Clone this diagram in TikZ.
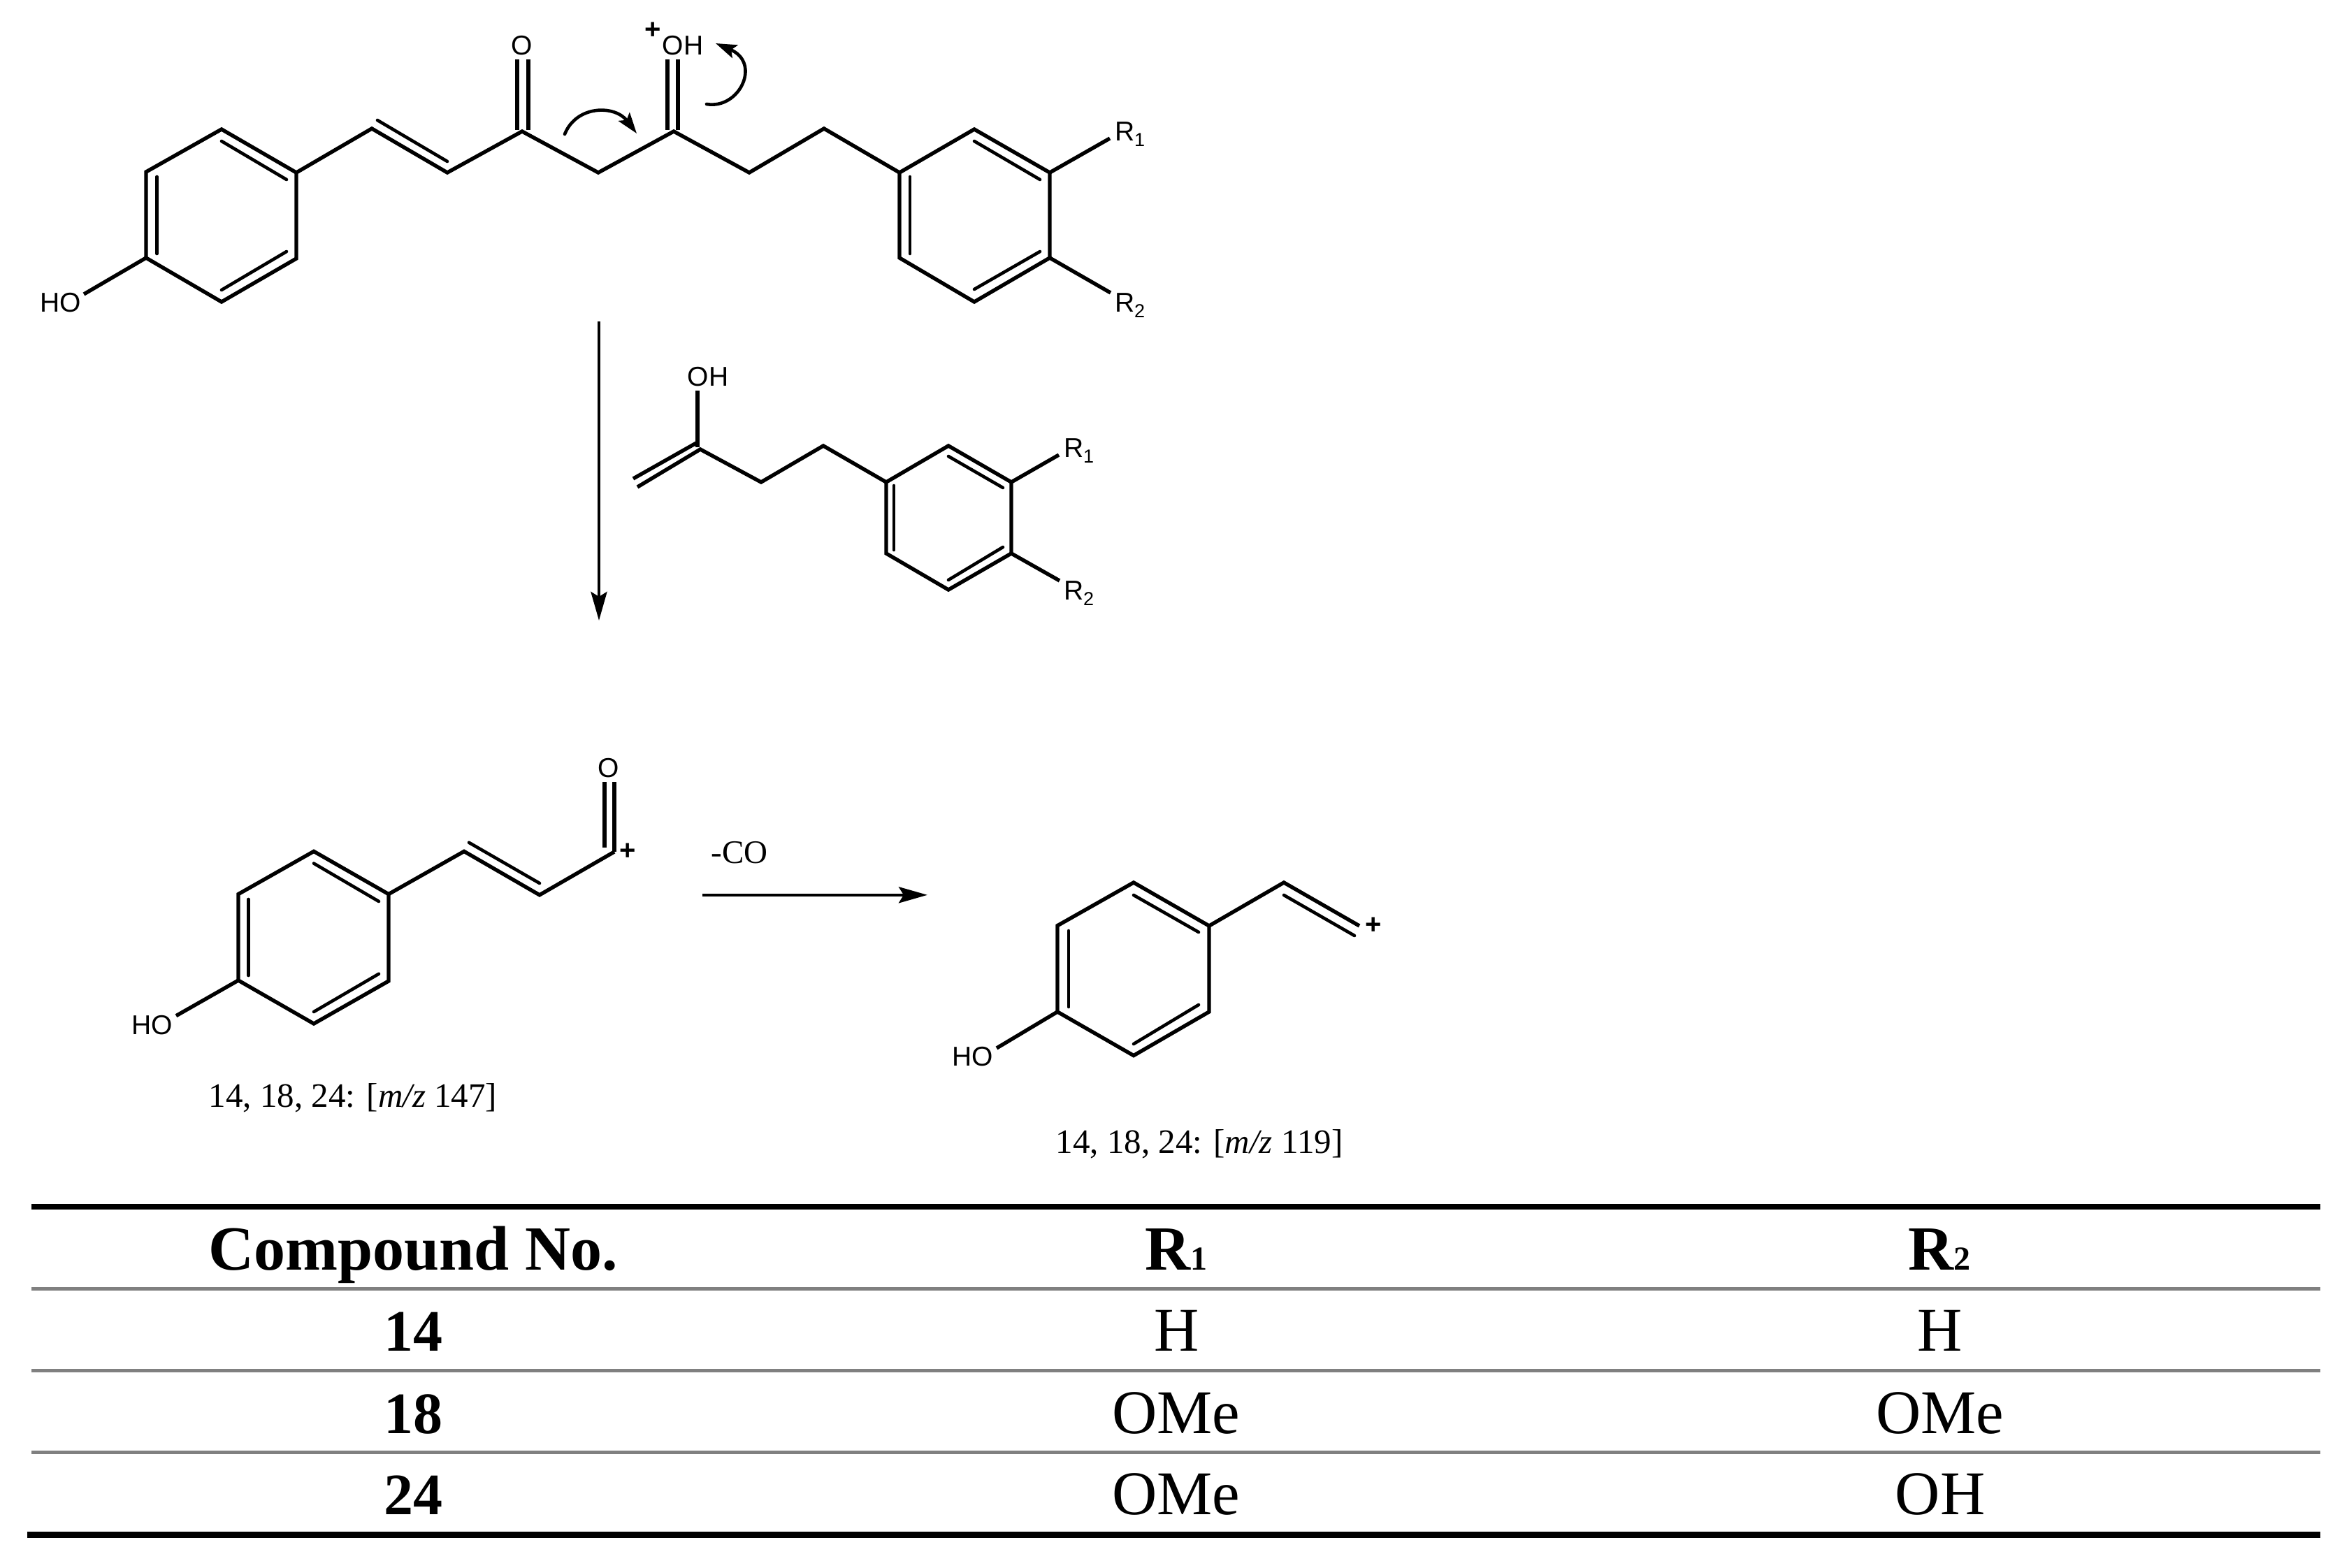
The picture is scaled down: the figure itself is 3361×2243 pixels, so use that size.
\documentclass[tikz,border=0pt]{standalone}
\usepackage{fontspec}
\setmainfont{Liberation Serif}
\newfontfamily\lsans{Liberation Sans}
\usetikzlibrary{arrows.meta}
\newcommand{\fsz}[1]{\fontsize{#1}{#1}\selectfont}
\newcommand{\Rsub}[1]{R\raisebox{-8pt}{\fsz{27}#1}}
\definecolor{rulegray}{HTML}{808080}
\tikzset{
  x=1pt,y=-1pt,
  bond/.style={line width=5.4pt,line cap=butt,line join=miter,black},
  inner/.style={line width=4.6pt,line cap=round,black},
  atom/.style={inner sep=0pt,outer sep=0pt,anchor=base,font=\lsans\fsz{39}},
  atomw/.style={atom,anchor=base west},
  chg/.style={inner sep=0pt,outer sep=0pt,anchor=center,font=\lsans\bfseries\fsz{40}},
  caplab/.style={inner sep=0pt,outer sep=0pt,anchor=base,font=\fsz{49}},
  headcell/.style={inner sep=0pt,outer sep=0pt,anchor=base,font=\bfseries\fsz{90}},
  idcell/.style={inner sep=0pt,outer sep=0pt,anchor=base,font=\bfseries\fsz{84}},
  valcell/.style={inner sep=0pt,outer sep=0pt,anchor=base,font=\fsz{89}},
  thick rule/.style={line width=8.7pt,black},
  thin rule/.style={line width=4.8pt,rulegray},
  rxn/.style={line width=4.6pt,-{Stealth[length=41pt,width=23pt,inset=7pt]}},
  curly/.style={line width=4.6pt,line cap=round,-{Stealth[length=30pt,width=20pt,inset=6pt]}},
}
\begin{document}
\begin{tikzpicture}
\useasboundingbox (0,0) rectangle (3361,2243);
\fill[white] (0,0) rectangle (3361,2243);
% ---- top molecule
\foreach \n/\p in {a1/{317,185},a2/{424,247},a3/{424,370},a4/{317,432},a5/{209,369},a6/{209,246},
 c1/{532,184},c2/{640,247},c3/{747,188},c4/{856,247},c5/{964,188},c6/{1072,247},c7/{1179,184},
 b1/{1287,247},b2/{1394,185},b3/{1502,247},b4/{1502,369},b5/{1394,432},b6/{1287,369},
 ai1/{317,202},ai2/{410,257},ai3/{224.5,253},ai4/{224.5,363},ai5/{317,415},ai6/{410,360},
 ci1/{540,172},ci2/{640,231},
 bi1/{1394,202},bi2/{1488,257},bi3/{1302,253},bi4/{1302,363},bi5/{1394,414},bi6/{1488,360},
 o1l/{740,85},o1m/{740,186},o1r/{756,85},o1n/{756,186},
 o2l/{955,85},o2m/{955,186},o2r/{970,85},o2n/{970,186},
 hoa/{120,421},r1a/{1588,198},r2a/{1589,419},
 ca1/{808,192},ca2/{911,191},cb1/{1011,149},cb2/{1024,62},
 v1/{857,460},v2/{857,888},
 % enol fragment
 e1/{906,685},e1b/{998,633},e2/{912,697},e2b/{1002,643},e3/{1089,690},e4/{1178,638},
 eh/{998,559},ehb/{998,640},
 f1/{1268,690},f2/{1357,638},f3/{1447,690},f4/{1447,792},f5/{1357,844},f6/{1268,792},
 fi1/{1357,653},fi2/{1435,698},fi3/{1279,695},fi4/{1279,787},fi5/{1357,830},fi6/{1435,783},
 r1f/{1515,651},r2f/{1516,831},
 % acylium
 g1/{449,1218.4},g2/{556,1279.6},g3/{556,1404},g4/{449,1465},g5/{341,1403},g6/{341,1279.6},
 gi1/{449,1235.6},gi2/{542,1290},gi3/{355.5,1287},gi4/{355.5,1396},gi5/{449,1448},gi6/{542,1393.7},
 h1/{664,1218.4},h2/{772,1280.8},h3/{879,1219},hi1/{671,1205.8},hi2/{772,1264},
 ol/{865,1119},olb/{865,1212.6},or/{879,1119},
 hog/{252,1453.7},
 w1/{1005,1280.8},w2/{1327,1280.8},
 % vinyl cation
 k1/{1622,1263},k2/{1730,1325},k3/{1730,1448},k4/{1622,1510.6},k5/{1513,1448},k6/{1513,1324.7},
 ki1/{1622,1281},ki2/{1715,1334},ki3/{1529,1332},ki4/{1529,1441},ki5/{1622,1494},ki6/{1715,1438},
 m1/{1837,1263},m2/{1945,1325},mi1/{1837,1281},mi2/{1938,1339},
 hok/{1426,1500},
 % table
 t1l/{45,1727},t1r/{3320,1727},t2l/{45,1844.4},t2r/{3320,1844.4},t3l/{45,1961.4},t3r/{3320,1961.4},
 t4l/{45,2078.5},t4r/{3320,2078.5},t5l/{39,2196.5},t5r/{3320,2196.5}}
 {\coordinate (\n) at (\p);}
\draw[bond] (a1)--(a2)--(a3)--(a4)--(a5)--(a6)--cycle;
\draw[bond] (a5)--(hoa);
\draw[bond] (a2)--(c1)--(c2)--(c3)--(c4)--(c5)--(c6)--(c7)--(b1);
\draw[bond] (b1)--(b2)--(b3)--(b4)--(b5)--(b6)--cycle;
\draw[bond] (b3)--(r1a);
\draw[bond] (b4)--(r2a);
\draw[inner] (ai1)--(ai2);
\draw[inner] (ai3)--(ai4);
\draw[inner] (ai5)--(ai6);
\draw[inner] (ci1)--(ci2);
\draw[inner] (bi1)--(bi2);
\draw[inner] (bi3)--(bi4);
\draw[inner] (bi5)--(bi6);
\draw[bond] (o1l)--(o1m);
\draw[bond] (o1r)--(o1n);
\draw[bond] (o2l)--(o2m);
\draw[bond] (o2r)--(o2n);
\node[atom] (hotop) at (87,446.5) {HO};
\node[atom] (otop) at (747,78.5) {O};
\node[atom] (ohtop) at (977,78.5) {OH};
\node[chg] (ptop) at (934,44) {+};
\node[atomw] (r1top) at (1595,201.5) {\Rsub{1}};
\node[atomw] (r2top) at (1595,446.7) {\Rsub{2}};
\draw[curly] (ca1) .. controls (825,150) and (880,150) .. (ca2);
\draw[curly] (cb1) .. controls (1058,157) and (1090,90) .. (cb2);
% main arrow
\draw[rxn] (v1)--(v2);
% enol fragment
\draw[bond] (e1)--(e1b);
\draw[bond] (e2)--(e2b)--(e3)--(e4)--(f1);
\draw[bond] (eh)--(ehb);
\draw[bond] (f1)--(f2)--(f3)--(f4)--(f5)--(f6)--cycle;
\draw[bond] (f3)--(r1f);
\draw[bond] (f4)--(r2f);
\draw[inner] (fi1)--(fi2);
\draw[inner] (fi3)--(fi4);
\draw[inner] (fi5)--(fi6);
\node[atom] (ohenol) at (1013,552.5) {OH};
\node[atomw] (r1mid) at (1522,654) {\Rsub{1}};
\node[atomw] (r2mid) at (1522,858) {\Rsub{2}};
% acylium
\draw[bond] (g1)--(g2)--(g3)--(g4)--(g5)--(g6)--cycle;
\draw[bond] (g5)--(hog);
\draw[bond] (g2)--(h1)--(h2)--(h3);
\draw[inner] (gi1)--(gi2);
\draw[inner] (gi3)--(gi4);
\draw[inner] (gi5)--(gi6);
\draw[inner] (hi1)--(hi2);
\draw[bond] (ol)--(olb);
\draw[bond] (or)--(h3);
\node[atom] (oacyl) at (871,1112) {O};
\node[chg] (pacyl) at (898,1219) {+};
\node[atom] (hoacyl) at (218,1480) {HO};
\node[caplab] (cap1) at (505,1584) {14, 18, 24: [\textit{m/z} 147]};
% CO arrow
\draw[rxn] (w1)--(w2);
\node[inner sep=0pt,outer sep=0pt,anchor=base,font=\fsz{47}] (co) at (1058,1235) {-CO};
% vinyl cation
\draw[bond] (k1)--(k2)--(k3)--(k4)--(k5)--(k6)--cycle;
\draw[bond] (k5)--(hok);
\draw[bond] (k2)--(m1)--(m2);
\draw[inner] (ki1)--(ki2);
\draw[inner] (ki3)--(ki4);
\draw[inner] (ki5)--(ki6);
\draw[inner] (mi1)--(mi2);
\node[atom] (hovinyl) at (1392,1525) {HO};
\node[chg] (pvinyl) at (1965,1325) {+};
\node[caplab] (cap2) at (1716,1650) {14, 18, 24: [\textit{m/z} 119]};
% table
\draw[thick rule] (t1l)--(t1r);
\draw[thin rule] (t2l)--(t2r);
\draw[thin rule] (t3l)--(t3r);
\draw[thin rule] (t4l)--(t4r);
\draw[thick rule] (t5l)--(t5r);
\node[headcell] (th1) at (591,1817.7) {Compound No.};
\node[headcell] (th2) at (1683,1817.7) {R\fsz{48}1};
\node[headcell] (th3) at (2775,1817.7) {R\fsz{48}2};
\node[idcell] (r1c1) at (591,1933.7) {14};
\node[idcell] (r2c1) at (591,2051.5) {18};
\node[idcell] (r3c1) at (591,2167.5) {24};
\node[valcell] (r1c2) at (1684,1933.7) {H};
\node[valcell] (r1c3) at (2776,1933.7) {H};
\node[valcell] (r2c2) at (1683,2051.5) {OMe};
\node[valcell] (r2c3) at (2776,2051.5) {OMe};
\node[valcell] (r3c2) at (1683,2167.5) {OMe};
\node[valcell] (r3c3) at (2776,2167.5) {OH};
\end{tikzpicture}
\end{document}
